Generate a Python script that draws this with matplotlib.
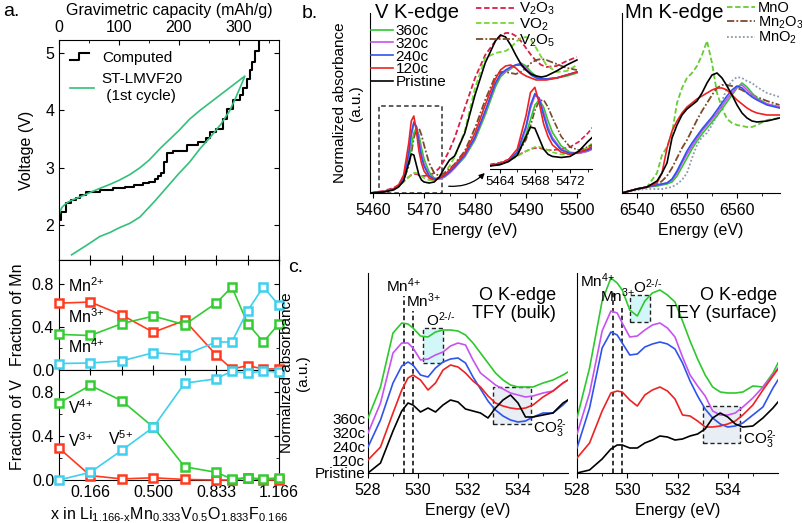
import matplotlib
matplotlib.use('Agg')
import matplotlib.pyplot as plt
from matplotlib.patches import Rectangle
from matplotlib.lines import Line2D
from matplotlib.legend_handler import HandlerBase

plt.rcParams['font.family'] = ['Liberation Sans', 'DejaVu Sans']
plt.rcParams['mathtext.fontset'] = 'custom'
plt.rcParams['mathtext.rm'] = 'Liberation Sans'
plt.rcParams['mathtext.it'] = 'Liberation Sans:italic'
plt.rcParams['mathtext.default'] = 'regular'
plt.rcParams['font.size'] = 11.5
plt.rcParams['axes.linewidth'] = 0.8

# ---------------- panel a: voltage profile ----------------
comp_cap = [0, 3, 12, 20, 28, 35, 45, 68, 90, 110, 125, 140, 150, 160, 165, 170, 175, 180,
            190, 213, 232, 245, 252, 262, 273, 281, 290, 302, 307, 313, 318, 322, 327, 333, 340]
comp_v = [2.09, 2.22, 2.38, 2.43, 2.47, 2.52, 2.58, 2.62, 2.65, 2.67, 2.70, 2.73, 2.76, 2.80,
          2.85, 2.90, 3.10, 3.25, 3.30, 3.39, 3.45, 3.52, 3.62, 3.68, 3.85, 4.03, 4.18, 4.27,
          4.40, 4.55, 4.70, 4.85, 5.04, 5.30, 5.30]
exp_cap = [0, 2, 5, 10, 15, 25, 35, 50, 68, 85, 100, 118, 135, 150, 170, 185, 200, 218, 235,
           255, 270, 290, 310,
           305, 300, 293, 285, 270, 252, 235, 218, 200, 180, 160, 135, 118, 100, 85, 68, 45, 21]
exp_v = [2.17, 2.24, 2.31, 2.36, 2.40, 2.45, 2.49, 2.56, 2.64, 2.71, 2.78, 2.88, 3.00, 3.13,
         3.35, 3.50, 3.65, 3.85, 4.00, 4.16, 4.28, 4.44, 4.60,
         4.47, 4.35, 4.18, 4.00, 3.76, 3.53, 3.33, 3.10, 2.90, 2.66, 2.42, 2.14, 2.03, 1.95,
         1.87, 1.80, 1.64, 1.48]

# ---------------- panel a: oxidation state fractions ----------------
x_frac = [0, 0.166, 0.333, 0.5, 0.666, 0.833, 0.916, 1.0, 1.083, 1.166]
mn2 = [0.62, 0.63, 0.51, 0.35, 0.46, 0.14, 0.01, 0.04, 0.01, 0.01]
mn3 = [0.33, 0.32, 0.43, 0.50, 0.42, 0.62, 0.77, 0.43, 0.26, 0.43]
mn4 = [0.06, 0.065, 0.085, 0.16, 0.14, 0.26, 0.26, 0.55, 0.77, 0.60]
v3 = [0.29, 0.04, 0.01, 0.02, 0.005, 0.0, 0.0, 0.02, 0.0, 0.0]
v4 = [0.70, 0.86, 0.72, 0.48, 0.12, 0.07, 0.01, 0.02, 0.01, 0.02]
v5 = [0.0, 0.07, 0.27, 0.48, 0.88, 0.92, 0.99, 0.97, 0.99, 0.98]
x_ticks = [0.166, 0.333, 0.5, 0.666, 0.833, 1.0, 1.166]
x_ticklabels = ['0.166', '', '0.500', '', '0.833', '', '1.166']

# ---------------- panel b: V K-edge ----------------
V_E = [5459.5, 5462, 5464, 5465, 5466, 5467, 5467.5, 5468, 5468.5, 5469,
       5469.5, 5470, 5471, 5472, 5473, 5474, 5475, 5476, 5478, 5480,
       5482, 5484, 5485, 5486, 5487, 5488, 5489, 5490, 5491, 5492,
       5493, 5494, 5496, 5498, 5500]
v_360 = [0.00, 0.01, 0.04, 0.07, 0.14, 0.32, 0.46, 0.60, 0.65, 0.58,
         0.45, 0.34, 0.21, 0.15, 0.14, 0.16, 0.20, 0.25, 0.36, 0.53,
         0.78, 1.06, 1.16, 1.21, 1.24, 1.28, 1.30, 1.27, 1.21, 1.17,
         1.15, 1.14, 1.15, 1.17, 1.20]
v_320 = [0.00, 0.01, 0.04, 0.07, 0.15, 0.38, 0.57, 0.69, 0.67, 0.53,
         0.39, 0.29, 0.18, 0.14, 0.14, 0.16, 0.20, 0.25, 0.37, 0.55,
         0.81, 1.09, 1.18, 1.22, 1.25, 1.28, 1.29, 1.25, 1.19, 1.16,
         1.14, 1.14, 1.15, 1.18, 1.21]
v_240 = [0.00, 0.01, 0.04, 0.07, 0.15, 0.40, 0.60, 0.71, 0.66, 0.50,
         0.36, 0.27, 0.17, 0.14, 0.15, 0.17, 0.21, 0.26, 0.38, 0.56,
         0.82, 1.10, 1.19, 1.23, 1.26, 1.28, 1.28, 1.23, 1.18, 1.15,
         1.14, 1.14, 1.15, 1.18, 1.21]
v_120 = [0.00, 0.01, 0.04, 0.08, 0.18, 0.50, 0.72, 0.77, 0.62, 0.42,
         0.30, 0.22, 0.15, 0.13, 0.15, 0.18, 0.23, 0.28, 0.40, 0.60,
         0.88, 1.14, 1.23, 1.27, 1.28, 1.25, 1.20, 1.17, 1.15, 1.13,
         1.13, 1.13, 1.15, 1.18, 1.21]
v_pristine = [0.00, 0.01, 0.03, 0.06, 0.12, 0.30, 0.39, 0.38, 0.28, 0.18,
              0.13, 0.11, 0.10, 0.11, 0.16, 0.25, 0.33, 0.37, 0.60, 0.98,
              1.30, 1.52, 1.58, 1.56, 1.48, 1.38, 1.29, 1.23, 1.19, 1.17,
              1.16, 1.17, 1.22, 1.28, 1.33]
v_v2o3 = [0.00, 0.02, 0.05, 0.08, 0.12, 0.16, 0.18, 0.19, 0.19, 0.18,
          0.17, 0.17, 0.18, 0.20, 0.25, 0.33, 0.43, 0.55, 0.85, 1.15,
          1.38, 1.52, 1.57, 1.60, 1.60, 1.57, 1.52, 1.45, 1.38, 1.32,
          1.28, 1.26, 1.27, 1.32, 1.36]
v_vo2 = [0.00, 0.01, 0.04, 0.07, 0.11, 0.16, 0.18, 0.20, 0.20, 0.19,
         0.17, 0.15, 0.13, 0.13, 0.15, 0.20, 0.27, 0.36, 0.62, 1.05,
         1.35, 1.40, 1.41, 1.42, 1.45, 1.51, 1.55, 1.56, 1.53, 1.45,
         1.36, 1.28, 1.21, 1.22, 1.28]
v_v2o5 = [0.00, 0.01, 0.04, 0.07, 0.13, 0.27, 0.40, 0.55, 0.64, 0.65,
          0.58, 0.48, 0.30, 0.20, 0.17, 0.20, 0.24, 0.29, 0.42, 0.65,
          0.93, 1.17, 1.21, 1.21, 1.20, 1.19, 1.21, 1.25, 1.30, 1.33,
          1.34, 1.33, 1.29, 1.25, 1.23]

# ---------------- panel b: Mn K-edge ----------------
Mn_E = [6537, 6540, 6542, 6544, 6545, 6546, 6547, 6548, 6549, 6550,
        6551, 6552, 6553, 6554, 6555, 6556, 6557, 6558, 6559, 6560,
        6561, 6562, 6563, 6564, 6566, 6568.5]
mn_360 = [0.00, 0.04, 0.06, 0.07, 0.08, 0.09, 0.11, 0.17, 0.26, 0.35,
          0.44, 0.52, 0.59, 0.65, 0.71, 0.77, 0.84, 0.91, 0.98, 1.05,
          1.10, 1.06, 1.00, 0.95, 0.89, 0.86]
mn_320 = [0.00, 0.04, 0.06, 0.08, 0.09, 0.10, 0.13, 0.20, 0.30, 0.39,
          0.47, 0.55, 0.62, 0.68, 0.74, 0.80, 0.87, 0.94, 1.00, 1.06,
          1.08, 1.03, 0.98, 0.94, 0.89, 0.86]
mn_240 = [0.00, 0.04, 0.06, 0.08, 0.09, 0.10, 0.14, 0.22, 0.32, 0.42,
          0.50, 0.57, 0.64, 0.70, 0.76, 0.83, 0.90, 0.97, 1.03, 1.07,
          1.05, 1.00, 0.96, 0.93, 0.88, 0.85]
mn_120 = [0.00, 0.04, 0.06, 0.10, 0.20, 0.45, 0.62, 0.72, 0.80, 0.86,
          0.90, 0.94, 0.97, 1.00, 1.03, 1.05, 1.05, 1.03, 0.98, 0.93,
          0.89, 0.85, 0.82, 0.80, 0.78, 0.78]
mn_pristine = [0.00, 0.04, 0.06, 0.12, 0.20, 0.30, 0.55, 0.68, 0.78, 0.84,
               0.88, 0.92, 1.00, 1.10, 1.18, 1.20, 1.15, 1.07, 0.98, 0.88,
               0.80, 0.75, 0.72, 0.71, 0.72, 0.75]
mn_mno = [0.00, 0.04, 0.06, 0.20, 0.38, 0.46, 0.60, 0.90, 1.05, 1.15,
          1.20, 1.27, 1.38, 1.52, 1.30, 1.00, 0.85, 0.74, 0.70, 0.68,
          0.67, 0.66, 0.66, 0.68, 0.73, 0.75]
mn_mn2o3 = [0.00, 0.04, 0.06, 0.08, 0.12, 0.17, 0.25, 0.35, 0.45, 0.53,
            0.63, 0.73, 0.82, 0.90, 0.98, 1.05, 1.08, 1.08, 1.07, 1.05,
            1.03, 1.00, 0.98, 0.96, 0.92, 0.88]
mn_mno2 = [0.00, 0.03, 0.04, 0.04, 0.04, 0.05, 0.06, 0.09, 0.13, 0.20,
           0.35, 0.48, 0.56, 0.60, 0.68, 0.78, 0.92, 1.05, 1.12, 1.16,
           1.15, 1.12, 1.10, 1.06, 1.00, 0.96]

# ---------------- panel c: O K-edge ----------------
O_E = [528, 528.5, 529.0, 529.35, 529.6, 529.8, 530.1, 530.4, 530.7, 531.0,
       531.3, 531.6, 531.9, 532.2, 532.5, 532.8, 533.1, 533.4, 533.7, 534.0,
       534.3, 534.6, 535.0, 535.4, 535.8, 536.0]
tfy_pristine = [0.00, 0.10, 0.42, 0.62, 0.70, 0.68, 0.61, 0.65, 0.61, 0.68,
                0.73, 0.71, 0.64, 0.62, 0.60, 0.55, 0.65, 0.73, 0.78, 0.70,
                0.56, 0.56, 0.58, 0.60, 0.70, 0.73]
tfy_120 = [0.13, 0.26, 0.60, 0.83, 0.95, 0.98, 0.93, 0.83, 0.90, 1.03,
           1.08, 1.06, 1.00, 0.92, 0.86, 0.77, 0.70, 0.67, 0.65, 0.64,
           0.65, 0.68, 0.76, 0.82, 0.90, 0.93]
tfy_240 = [0.26, 0.53, 0.90, 1.07, 1.11, 1.08, 0.98, 0.96, 1.05, 1.11,
           1.14, 1.15, 1.10, 0.96, 0.84, 0.72, 0.63, 0.57, 0.53, 0.51,
           0.52, 0.56, 0.60, 0.60, 0.68, 0.73]
tfy_320 = [0.40, 0.70, 1.20, 1.30, 1.30, 1.25, 1.13, 1.14, 1.18, 1.21,
           1.27, 1.30, 1.28, 1.13, 1.00, 0.94, 0.88, 0.84, 0.80, 0.78,
           0.76, 0.77, 0.80, 0.82, 0.90, 0.93]
tfy_360 = [0.55, 0.86, 1.40, 1.50, 1.49, 1.45, 1.37, 1.36, 1.41, 1.43,
           1.43, 1.42, 1.38, 1.30, 1.20, 1.10, 1.00, 0.93, 0.88, 0.86,
           0.86, 0.86, 0.90, 0.93, 0.98, 1.01]
tey_pristine = [0.00, 0.03, 0.14, 0.24, 0.28, 0.28, 0.25, 0.25, 0.30, 0.33,
                0.37, 0.36, 0.33, 0.34, 0.37, 0.39, 0.44, 0.55, 0.60, 0.56,
                0.49, 0.46, 0.47, 0.55, 0.65, 0.71]
tey_120 = [0.15, 0.30, 0.62, 0.80, 0.82, 0.81, 0.73, 0.67, 0.78, 0.83,
           0.86, 0.82, 0.74, 0.58, 0.57, 0.52, 0.46, 0.46, 0.47, 0.49,
           0.52, 0.58, 0.68, 0.83, 0.97, 1.04]
tey_240 = [0.25, 0.65, 1.25, 1.41, 1.38, 1.30, 1.18, 1.19, 1.26, 1.29,
           1.31, 1.29, 1.24, 1.10, 0.92, 0.77, 0.64, 0.55, 0.49, 0.46,
           0.47, 0.50, 0.58, 0.66, 0.85, 0.93]
tey_320 = [0.39, 0.80, 1.42, 1.62, 1.60, 1.50, 1.36, 1.37, 1.43, 1.48,
           1.50, 1.45, 1.36, 1.16, 0.98, 0.87, 0.77, 0.62, 0.58, 0.58,
           0.60, 0.66, 0.75, 0.86, 0.98, 1.05]
tey_360 = [0.55, 1.05, 1.72, 1.95, 1.90, 1.83, 1.63, 1.57, 1.72, 1.80,
           1.83, 1.78, 1.71, 1.52, 1.32, 1.14, 0.98, 0.86, 0.81, 0.80,
           0.80, 0.81, 0.87, 0.86, 1.00, 1.10]

sample_labels = ['360c', '320c', '240c', '120c', 'Pristine']
sample_colors = ['#2ec82e', '#c653f0', '#2f54eb', '#ee2222', 'black']
c_red, c_green, c_cyan = '#ff3b1f', '#33cc33', '#3fd0ee'
exp_green = '#33c07a'

W, H = 802, 523
fig = plt.figure(figsize=(W / 100, H / 100), dpi=100)


def px_axes(x0, y0, x1, y1):
    return fig.add_axes([x0 / W, 1 - y1 / H, (x1 - x0) / W, (y1 - y0) / H])


class StepHandler(HandlerBase):
    def create_artists(self, legend, orig_handle, xdescent, ydescent, width, height, fontsize, trans):
        xs = [0, width * 0.4, width * 0.4, width * 0.8]
        ys = [height * 0.15, height * 0.15, height * 0.85, height * 0.85]
        ln = Line2D([x - xdescent for x in xs], [y - ydescent for y in ys], color='black', lw=1.5)
        ln.set_transform(trans)
        return [ln]


# ======== panel a ========
CAP_PER_X = 367 / 1.166
ax_v = px_axes(59, 40, 279, 260)
comp_line, = ax_v.plot(comp_cap, comp_v, drawstyle='steps-post', color='black', lw=1.5)
exp_line, = ax_v.plot(exp_cap, exp_v, color=exp_green, lw=1.2)
ax_v.set_xlim(0, 367)
ax_v.set_ylim(1.39, 5.23)
ax_v.xaxis.tick_top()
ax_v.xaxis.set_label_position('top')
ax_v.set_xticks([0, 100, 200, 300])
ax_v.set_xticks([50, 150, 250, 350], minor=True)
ax_v.set_yticks([2, 3, 4, 5])
ax_v.tick_params(which='both', direction='in', top=True, bottom=False, right=True)
ax_v.set_xlabel('Gravimetric capacity (mAh/g)', labelpad=4)
ax_v.set_ylabel('Voltage (V)', labelpad=8)
sec = ax_v.secondary_xaxis('bottom', functions=(lambda c: c / CAP_PER_X, lambda x: x * CAP_PER_X))
sec.set_xticks(x_ticks)
sec.set_xticklabels([])
sec.tick_params(direction='in')
ax_v.legend([comp_line, exp_line], ['Computed', 'ST-LMVF20\n (1st cycle)'],
            handler_map={comp_line: StepHandler()}, loc='upper left', frameon=False,
            fontsize=11, handlelength=1.6, handletextpad=0.5, labelspacing=0.5,
            borderaxespad=0.3)

ax_mn = px_axes(59, 260, 279, 370)
ax_vf = px_axes(59, 370, 279, 480)
for ax, series, ylim in [(ax_mn, [(mn2, c_red), (mn3, c_green), (mn4, c_cyan)], 1.02),
                         (ax_vf, [(v3, c_red), (v4, c_green), (v5, c_cyan)], 1.0)]:
    for vals, col in series:
        ax.plot(x_frac, vals, color=col, lw=1.2, marker='s', ms=6, mfc='white',
                mec=col, mew=1.8, clip_on=False, zorder=3)
    ax.set_xlim(0, 1.166)
    ax.set_ylim(0, ylim)
    ax.set_xticks(x_ticks)
    ax.set_yticks([0, 0.4, 0.8])
    ax.set_yticklabels(['0.0', '0.4', '0.8'])
    ax.set_yticks([0.2, 0.6], minor=True)
    ax.tick_params(which='both', direction='in', top=True, right=True)
ax_mn.set_xticklabels([])
ax_vf.set_xticklabels(x_ticklabels)
ax_mn.set_ylabel('Fraction of Mn', labelpad=5)
ax_vf.set_ylabel('Fraction of V', labelpad=5)
ax_vf.set_xlabel('x in Li$_{1.166\u2010x}$Mn$_{0.333}$V$_{0.5}$O$_{1.833}$F$_{0.166}$', labelpad=4)
ax_mn.text(0.05, 0.72, 'Mn$^{2{+}}$', fontsize=11.5)
ax_mn.text(0.05, 0.44, 'Mn$^{3{+}}$', fontsize=11.5)
ax_mn.text(0.05, 0.16, 'Mn$^{4{+}}$', fontsize=11.5)
ax_vf.text(0.05, 0.60, 'V$^{4{+}}$', fontsize=11.5)
ax_vf.text(0.05, 0.30, 'V$^{3{+}}$', fontsize=11.5)
ax_vf.text(0.26, 0.32, 'V$^{5{+}}$', fontsize=11.5)

# ======== panel b: V K-edge ========
ax_b1 = px_axes(370, 13, 580, 193)
samples_v = [v_360, v_320, v_240, v_120, v_pristine]
refs_v = [(v_v2o3, 'V$_2$O$_3$', '#d8204a', (0, (3, 1.5))),
          (v_vo2, 'VO$_2$', '#74d92e', (0, (3, 1.5))),
          (v_v2o5, 'V$_2$O$_5$', '#7a4a2a', (0, (4, 1.2, 1, 1.2)))]
ref_handles = []
for vals, lab, col, ls in refs_v:
    h, = ax_b1.plot(V_E, vals, color=col, lw=1.3, ls=ls, label=lab)
    ref_handles.append(h)
samp_handles = []
for vals, lab, col in zip(samples_v, sample_labels, sample_colors):
    h, = ax_b1.plot(V_E, vals, color=col, lw=1.2, label=lab)
    samp_handles.append(h)
ax_b1.set_xlim(5459.4, 5500.6)
ax_b1.set_ylim(0, 1.8)
ax_b1.set_xticks([5460, 5470, 5480, 5490, 5500])
ax_b1.set_xticks([5465, 5475, 5485, 5495], minor=True)
ax_b1.set_yticks([])
for s in ['top', 'right']:
    ax_b1.spines[s].set_visible(False)
ax_b1.tick_params(labelsize=11.5)
ax_b1.set_xlabel('Energy (eV)', labelpad=4)
ax_b1.set_ylabel('Normalized absorbance\n(a.u.)', labelpad=5, fontsize=11)
ax_b1.add_patch(Rectangle((5461.2, 0.005), 12.3, 0.87, fill=False, ls=(0, (3, 2)),
                          lw=1.1, ec='#333333'))
ax_b1.annotate('', xy=(5482.3, 0.22), xytext=(5474.3, 0.07),
               arrowprops=dict(arrowstyle='-|>', color='black', lw=0.9,
                               connectionstyle='arc3,rad=0.25', mutation_scale=8))
fig.legend(samp_handles, sample_labels, loc='upper left', bbox_to_anchor=(371 / W, 1 - 24 / H),
           frameon=False, fontsize=11, handlelength=1.45, handletextpad=0.15,
           labelspacing=-0.08, borderpad=0, borderaxespad=0)
fig.legend(ref_handles, [r[1] for r in refs_v], loc='upper left',
           bbox_to_anchor=(476 / W, 1 - 1 / H), frameon=False, fontsize=11,
           handlelength=2.5, handletextpad=0.3, labelspacing=-0.05, borderpad=0,
           borderaxespad=0)
fig.text(375 / W, 1 - 12 / H, 'V K-edge', fontsize=14.5, va='center', ha='left')

ax_in = px_axes(490, 80, 592, 169)
ax_in.patch.set_alpha(0)
for vals, lab, col, ls in refs_v:
    ax_in.plot(V_E, vals, color=col, lw=1.2, ls=ls)
for vals, col in zip(samples_v, sample_colors):
    ax_in.plot(V_E, vals, color=col, lw=1.2)
ax_in.set_xlim(5462.9, 5474.5)
ax_in.set_ylim(-0.01, 0.84)
ax_in.set_xticks([5464, 5468, 5472])
ax_in.set_xticks([5466, 5470, 5474], minor=True)
ax_in.set_yticks([])
for s in ['top', 'right', 'left']:
    ax_in.spines[s].set_visible(False)
ax_in.tick_params(labelsize=9.5, length=3, pad=2)
ax_in.tick_params(which='minor', length=2)

# ======== panel b: Mn K-edge ========
ax_b2 = px_axes(622, 13, 780, 193)
refs_mn = [(mn_mno, 'MnO', '#66cc33', (0, (3, 1.5))),
           (mn_mn2o3, 'Mn$_2$O$_3$', '#7a4a2a', (0, (4, 1.2, 1, 1.2))),
           (mn_mno2, 'MnO$_2$', '#8a9aaa', (0, (1, 1.2)))]
mn_ref_handles = []
for vals, lab, col, ls in refs_mn:
    h, = ax_b2.plot(Mn_E, vals, color=col, lw=1.3, ls=ls)
    mn_ref_handles.append(h)
for vals, col in zip([mn_360, mn_320, mn_240, mn_120, mn_pristine], sample_colors):
    ax_b2.plot(Mn_E, vals, color=col, lw=1.2)
ax_b2.set_xlim(6537, 6568.6)
ax_b2.set_ylim(0, 1.8)
ax_b2.set_xticks([6540, 6550, 6560])
ax_b2.set_xticks([6545, 6555, 6565], minor=True)
ax_b2.set_yticks([])
for s in ['top', 'right']:
    ax_b2.spines[s].set_visible(False)
ax_b2.tick_params(labelsize=11.5)
ax_b2.set_xlabel('Energy (eV)', labelpad=4)
fig.text(625 / W, 1 - 12 / H, 'Mn K-edge', fontsize=14.5, va='center', ha='left')
fig.legend(mn_ref_handles, [r[1] for r in refs_mn], loc='upper left',
           bbox_to_anchor=(727 / W, 1 - 1 / H), frameon=False, fontsize=10.5,
           handlelength=1.9, handletextpad=0.2, labelspacing=-0.05, borderpad=0,
           borderaxespad=0)

# ======== panel c: O K-edge ========
ax_c1 = px_axes(368, 273, 568, 473)
ax_c2 = px_axes(577, 273, 778, 473)
for ax, curves, title2, obox, co3box, co3_y, mn_tops, lab_pos in [
        (ax_c1, [tfy_360, tfy_320, tfy_240, tfy_120, tfy_pristine], 'TFY (bulk)',
         (530.2, 1.10, 0.8, 0.35), (533.0, 0.49, 1.5, 0.37), 0.44, (1.77, 1.62),
         ((529.4, 1.87), (530.2, 1.72), (530.9, 1.53))),
        (ax_c2, [tey_360, tey_320, tey_240, tey_120, tey_pristine], 'TEY (surface)',
         (530.1, 1.51, 0.8, 0.27), (533.0, 0.30, 1.5, 0.37), 0.33, (1.82, 1.67),
         ((528.8, 1.92), (529.6, 1.77), (530.8, 1.86)))]:
    for vals, col in zip(curves, sample_colors):
        ax.plot(O_E, vals, color=col, lw=1.2, zorder=3)
    ax.add_patch(Rectangle(obox[:2], obox[2], obox[3], fc='#d3f6f8', ec='#222222',
                           ls=(0, (3, 2)), lw=1.0, zorder=1))
    ax.add_patch(Rectangle(co3box[:2], co3box[2], co3box[3], fc='#e8eef4', ec='#222222',
                           ls=(0, (3, 2)), lw=1.0, zorder=1))
    ax.plot([529.45, 529.45], [0, mn_tops[0]], color='black', lw=1.1, ls=(0, (3, 2)), zorder=2)
    ax.plot([529.8, 529.8], [0, mn_tops[1]], color='black', lw=1.1, ls=(0, (3, 2)), zorder=2)
    ax.text(lab_pos[0][0], lab_pos[0][1], 'Mn$^{4{+}}$', ha='center', va='center', fontsize=11)
    ax.text(lab_pos[1][0], lab_pos[1][1], 'Mn$^{3{+}}$', ha='center', va='center', fontsize=11)
    ax.text(lab_pos[2][0], lab_pos[2][1], 'O$^{2\u2010/\u2010}$', ha='center', va='center', fontsize=11)
    ax.text(534.6, co3_y, 'CO$_3^{2\u2010}$', ha='left', va='center', fontsize=11)
    ax.text(0.995 if ax is ax_c2 else 0.94, 0.885, 'O K-edge', transform=ax.transAxes,
            ha='right', va='center', fontsize=13)
    ax.text(0.995 if ax is ax_c2 else 0.94, 0.795, title2, transform=ax.transAxes,
            ha='right', va='center', fontsize=13)
    ax.set_xlim(528, 536)
    ax.set_ylim(0, 2.0)
    ax.set_xticks([528, 530, 532, 534])
    ax.set_xticks([529, 531, 533, 535], minor=True)
    for s in ['top', 'right']:
        ax.spines[s].set_visible(False)
    ax.tick_params(axis='x', labelsize=11.5)
    ax.set_xlabel('Energy (eV)', labelpad=4)
ax_c1.set_yticks([c[0] for c in [tfy_360, tfy_320, tfy_240, tfy_120, tfy_pristine]])
ax_c1.set_yticklabels(sample_labels)
ax_c1.tick_params(axis='y', length=0, pad=2, labelsize=11)
ax_c1.set_ylabel('Normalized absorbance\n(a.u.)', labelpad=3, fontsize=11)
ax_c2.set_yticks([])

fig.text(3 / W, 1 - 12 / H, 'a.', fontsize=14, va='center')
fig.text(302 / W, 1 - 13 / H, 'b.', fontsize=14, va='center')
fig.text(288 / W, 1 - 268 / H, 'c.', fontsize=14, va='center')

fig.savefig('out.png', dpi=100)
